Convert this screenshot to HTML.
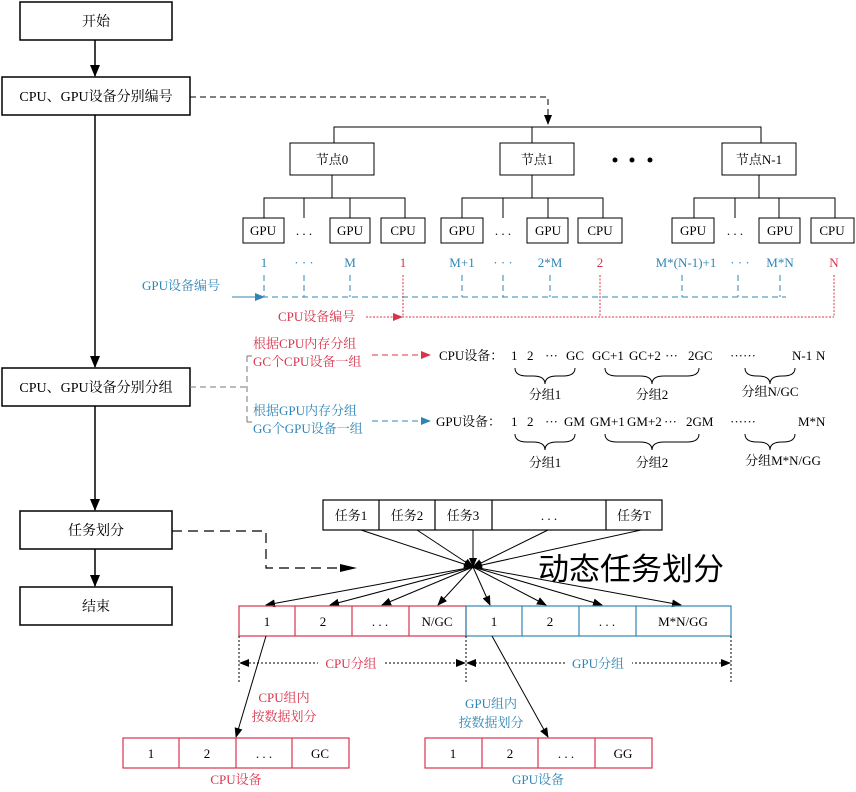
<!DOCTYPE html>
<html><head><meta charset="utf-8"><style>
html,body{margin:0;padding:0;background:#fff}
svg{display:block}
text{font-family:"Liberation Serif","Noto Serif CJK SC",serif;font-size:13px}
.r{fill:#d8344c}.b{fill:#2f86b5}
</style></head><body>
<svg width="856" height="792" viewBox="0 0 856 792" xmlns="http://www.w3.org/2000/svg">
<defs>
<marker id="ak" markerWidth="10" markerHeight="8" refX="9" refY="4" orient="auto" markerUnits="userSpaceOnUse"><path d="M0,0 L10,4 L0,8 z" fill="#000"/></marker>
<marker id="ar" markerWidth="10" markerHeight="8" refX="9" refY="4" orient="auto" markerUnits="userSpaceOnUse"><path d="M0,0 L10,4 L0,8 z" fill="#d8344c"/></marker>
<marker id="ab" markerWidth="10" markerHeight="8" refX="9" refY="4" orient="auto" markerUnits="userSpaceOnUse"><path d="M0,0 L10,4 L0,8 z" fill="#2f86b5"/></marker>
<marker id="as" markerWidth="12" markerHeight="10" refX="11" refY="5" orient="auto" markerUnits="userSpaceOnUse"><path d="M0,0 L12,5 L0,10 z" fill="#000"/></marker>
</defs>
<g fill="none" stroke="#000" stroke-width="1.5">
<rect x="20" y="2" width="152" height="38"/>
<rect x="2" y="77" width="188" height="38"/>
<rect x="2" y="368" width="188" height="38"/>
<rect x="20" y="511" width="152" height="38"/>
<rect x="20" y="587" width="152" height="38"/>
</g>
<g stroke="#000" stroke-width="1.5" fill="none">
<line x1="95" y1="40" x2="95" y2="76" marker-end="url(#as)"/>
<line x1="95" y1="115" x2="95" y2="367" marker-end="url(#as)"/>
<line x1="95" y1="406" x2="95" y2="510" marker-end="url(#as)"/>
<line x1="95" y1="549" x2="95" y2="586" marker-end="url(#as)"/>
</g>
<g text-anchor="middle">
<text x="96" y="26" style="font-size:14px">开始</text>
<text x="96" y="101" style="font-size:14px">CPU、GPU设备分别编号</text>
<text x="96" y="392" style="font-size:14px">CPU、GPU设备分别分组</text>
<text x="96" y="535" style="font-size:14px">任务划分</text>
<text x="96" y="611" style="font-size:14px">结束</text>
</g>
<path d="M190,97 H548 V124" stroke="#000" stroke-dasharray="6,4" fill="none" marker-end="url(#ak)"/>
<g stroke="#000" fill="none" stroke-width="1">
<path d="M334,143 V127 H761 V143 M532,127 V143"/>
<path d="M332,175 V198 M264,218 V198 H405 V218 M304,198 V218 M350,198 V218"/>
<path d="M532,175 V198 M462,218 V198 H603 V218 M503,198 V218 M548,198 V218"/>
<path d="M759,175 V198 M694,218 V198 H835 V218 M735,198 V218 M779,198 V218"/>
<rect x="290" y="143" width="84" height="32"/>
<rect x="500" y="143" width="74" height="32"/>
<rect x="722" y="143" width="74" height="32"/>
<rect x="243" y="218" width="41" height="25"/><rect x="330" y="218" width="40" height="25"/><rect x="381" y="218" width="44" height="25"/>
<rect x="441" y="218" width="42" height="25"/><rect x="527" y="218" width="41" height="25"/><rect x="578" y="218" width="44" height="25"/>
<rect x="672" y="218" width="42" height="25"/><rect x="759" y="218" width="41" height="25"/><rect x="811" y="218" width="43" height="25"/>
</g>
<g text-anchor="middle">
<text x="332" y="164">节点0</text><text x="537" y="164">节点1</text><text x="759" y="164">节点N-1</text>
<circle cx="615" cy="160" r="2.5"/><circle cx="632" cy="160" r="2.5"/><circle cx="650" cy="160" r="2.5"/>
<text x="263" y="235">GPU</text><text x="304" y="235">. . .</text><text x="350" y="235">GPU</text><text x="403" y="235">CPU</text>
<text x="462" y="235">GPU</text><text x="503" y="235">. . .</text><text x="548" y="235">GPU</text><text x="600" y="235">CPU</text>
<text x="693" y="235">GPU</text><text x="735" y="235">. . .</text><text x="780" y="235">GPU</text><text x="832" y="235">CPU</text>
<text class="b" x="264" y="267">1</text><text class="b" x="304" y="267">· · ·</text><text class="b" x="350" y="267">M</text><text class="r" x="403" y="267">1</text>
<text class="b" x="462" y="267">M+1</text><text class="b" x="503" y="267">· · ·</text><text class="b" x="550" y="267">2*M</text><text class="r" x="600" y="267">2</text>
<text class="b" x="686" y="267">M*(N-1)+1</text><text class="b" x="740" y="267">· · ·</text><text class="b" x="780" y="267">M*N</text><text class="r" x="834" y="267">N</text>
</g>
<g stroke="#2f86b5" fill="none" stroke-dasharray="6,4">
<path d="M264,275 V297 M304,275 V297 M350,275 V297 M462,275 V297 M503,275 V297 M550,275 V297 M682,275 V297 M738,275 V297 M780,275 V297"/>
<path d="M232,297 H786"/>
</g>
<line x1="232" y1="297" x2="264" y2="297" stroke="#2f86b5" marker-end="url(#ab)"/>
<text class="b" x="142" y="290">GPU设备编号</text>
<g stroke="#d8344c" fill="none" stroke-dasharray="2,1.5">
<path d="M403,275 V317 M600,275 V317 M834,275 V317 M402,317 H834"/>
<line x1="366" y1="317" x2="402" y2="317" marker-end="url(#ar)"/>
</g>
<text class="r" x="278" y="321">CPU设备编号</text>
<path d="M190,387 H247 M247,356 V422" stroke="#777" stroke-dasharray="6,4" fill="none"/>
<line x1="247" y1="356" x2="252" y2="356" stroke="#777"/>
<line x1="247" y1="422" x2="252" y2="422" stroke="#777"/>
<line x1="372" y1="355" x2="430" y2="355" stroke="#d8344c" stroke-dasharray="6,4" marker-end="url(#ar)"/>
<line x1="372" y1="421" x2="430" y2="421" stroke="#2f86b5" stroke-dasharray="6,4" marker-end="url(#ab)"/>
<text class="r" x="253" y="348">根据CPU内存分组</text>
<text class="r" x="253" y="366">GC个CPU设备一组</text>
<text class="b" x="253" y="415">根据GPU内存分组</text>
<text class="b" x="253" y="433">GG个GPU设备一组</text>
<g>
<text x="439" y="360">CPU设备：</text>
<text x="511" y="360">1</text><text x="527" y="360">2</text><text x="545" y="360">···</text><text x="566" y="360">GC</text>
<text x="592" y="360">GC+1</text><text x="629" y="360">GC+2</text><text x="665" y="360">···</text><text x="688" y="360">2GC</text>
<text x="730" y="360">······</text><text x="792" y="360">N-1</text><text x="816" y="360">N</text>
<text x="436" y="426">GPU设备：</text>
<text x="511" y="426">1</text><text x="527" y="426">2</text><text x="545" y="426">···</text><text x="564" y="426">GM</text>
<text x="590" y="426">GM+1</text><text x="627" y="426">GM+2</text><text x="664" y="426">···</text><text x="686" y="426">2GM</text>
<text x="730" y="426">······</text><text x="798" y="426">M*N</text>
</g>
<g fill="none" stroke="#000" stroke-width="1">
<path d="M515,368 q0,8 12,8 h6 q12,0 12,8 q0,-8 12,-8 h6 q12,0 12,-8"/>
<path d="M605,368 q0,8 12,8 h23 q12,0 12,8 q0,-8 12,-8 h23 q12,0 12,-8"/>
<path d="M745,368 q0,8 12,8 h1 q12,0 12,8 q0,-8 12,-8 h1 q12,0 12,-8"/>
<path d="M515,434 q0,8 12,8 h6 q12,0 12,8 q0,-8 12,-8 h6 q12,0 12,-8"/>
<path d="M605,434 q0,8 12,8 h23 q12,0 12,8 q0,-8 12,-8 h23 q12,0 12,-8"/>
<path d="M745,434 q0,8 12,8 h1 q12,0 12,8 q0,-8 12,-8 h1 q12,0 12,-8"/>
</g>
<g text-anchor="middle">
<text x="545" y="399">分组1</text><text x="652" y="399">分组2</text><text x="770" y="396">分组N/GC</text>
<text x="545" y="467">分组1</text><text x="652" y="467">分组2</text><text x="783" y="465">分组M*N/GG</text>
</g>
<path d="M172,531 H266 V568 H356" stroke="#000" stroke-dasharray="10,6" fill="none" stroke-width="1.2"/>
<path d="M340,564 L357,568 L340,572 z" fill="#000"/>
<g fill="none" stroke="#000" stroke-width="1.2">
<rect x="323" y="500" width="339" height="30"/>
<path d="M379,500 V530 M435,500 V530 M492,500 V530 M606,500 V530"/>
</g>
<g text-anchor="middle">
<text x="351" y="520">任务1</text><text x="407" y="520">任务2</text><text x="463" y="520">任务3</text><text x="549" y="520">. . .</text><text x="634" y="520">任务T</text>
</g>
<g stroke="#000" stroke-width="1" fill="none">
<line x1="361" y1="530" x2="473" y2="567" marker-end="url(#ak)"/>
<line x1="417" y1="530" x2="473" y2="567" marker-end="url(#ak)"/>
<line x1="473" y1="530" x2="473" y2="567" marker-end="url(#ak)"/>
<line x1="548" y1="530" x2="473" y2="567" marker-end="url(#ak)"/>
<line x1="641" y1="530" x2="473" y2="567" marker-end="url(#ak)"/>
<line x1="473" y1="567" x2="266" y2="605" marker-end="url(#ak)"/>
<line x1="473" y1="567" x2="330" y2="605" marker-end="url(#ak)"/>
<line x1="473" y1="567" x2="382" y2="605" marker-end="url(#ak)"/>
<line x1="473" y1="567" x2="438" y2="605" marker-end="url(#ak)"/>
<line x1="473" y1="567" x2="490" y2="605" marker-end="url(#ak)"/>
<line x1="473" y1="567" x2="546" y2="605" marker-end="url(#ak)"/>
<line x1="473" y1="567" x2="602" y2="605" marker-end="url(#ak)"/>
<line x1="473" y1="567" x2="681" y2="605" marker-end="url(#ak)"/>
</g>
<text x="538" y="580" style="font-family:'Liberation Sans','Noto Sans CJK SC',sans-serif;font-size:31px">动态任务划分</text>
<g fill="none" stroke-width="1.2">
<rect x="239" y="606" width="227" height="30" stroke="#d8344c"/>
<path d="M295,606 V636 M352,606 V636 M409,606 V636" stroke="#d8344c"/>
<rect x="466" y="606" width="265" height="30" stroke="#2f86b5"/>
<path d="M522,606 V636 M579,606 V636 M636,606 V636" stroke="#2f86b5"/>
</g>
<g text-anchor="middle">
<text x="267" y="626">1</text><text x="323" y="626">2</text><text x="380" y="626">. . .</text><text x="437" y="626">N/GC</text>
<text x="494" y="626">1</text><text x="550" y="626">2</text><text x="607" y="626">. . .</text><text x="683" y="626">M*N/GG</text>
</g>
<g stroke="#000" stroke-width="1" stroke-dasharray="2,2" fill="none">
<path d="M239,636 V682 M466,636 V682 M731,636 V682 M245,663 H461 M471,663 H725"/>
</g>
<path d="M239,663 l10,-4 v8 z M466,663 l-10,-4 v8 z M466,663 l10,-4 v8 z M731,663 l-10,-4 v8 z" fill="#000"/>
<rect x="318" y="655" width="66" height="16" fill="#fff"/>
<rect x="566" y="655" width="66" height="16" fill="#fff"/>
<text class="r" x="351" y="668" text-anchor="middle">CPU分组</text>
<text class="b" x="598" y="668" text-anchor="middle">GPU分组</text>
<line x1="266" y1="636" x2="236" y2="737" stroke="#000" marker-end="url(#ak)"/>
<line x1="492" y1="636" x2="548" y2="737" stroke="#000" marker-end="url(#ak)"/>
<g text-anchor="middle">
<text class="r" x="284" y="702">CPU组内</text><text class="r" x="284" y="721">按数据划分</text>
<text class="b" x="491" y="708">GPU组内</text><text class="b" x="491" y="727">按数据划分</text>
</g>
<g fill="none" stroke="#d8344c" stroke-width="1.2">
<rect x="123" y="738" width="226" height="30"/>
<path d="M179,738 V768 M236,738 V768 M292,738 V768"/>
<rect x="425" y="738" width="227" height="30"/>
<path d="M482,738 V768 M538,738 V768 M595,738 V768"/>
</g>
<g text-anchor="middle">
<text x="151" y="758">1</text><text x="207" y="758">2</text><text x="264" y="758">. . .</text><text x="320" y="758">GC</text>
<text x="453" y="758">1</text><text x="510" y="758">2</text><text x="566" y="758">. . .</text><text x="623" y="758">GG</text>
<text class="r" x="236" y="784">CPU设备</text>
<text class="b" x="538" y="784">GPU设备</text>
</g>
</svg>
</body></html>
